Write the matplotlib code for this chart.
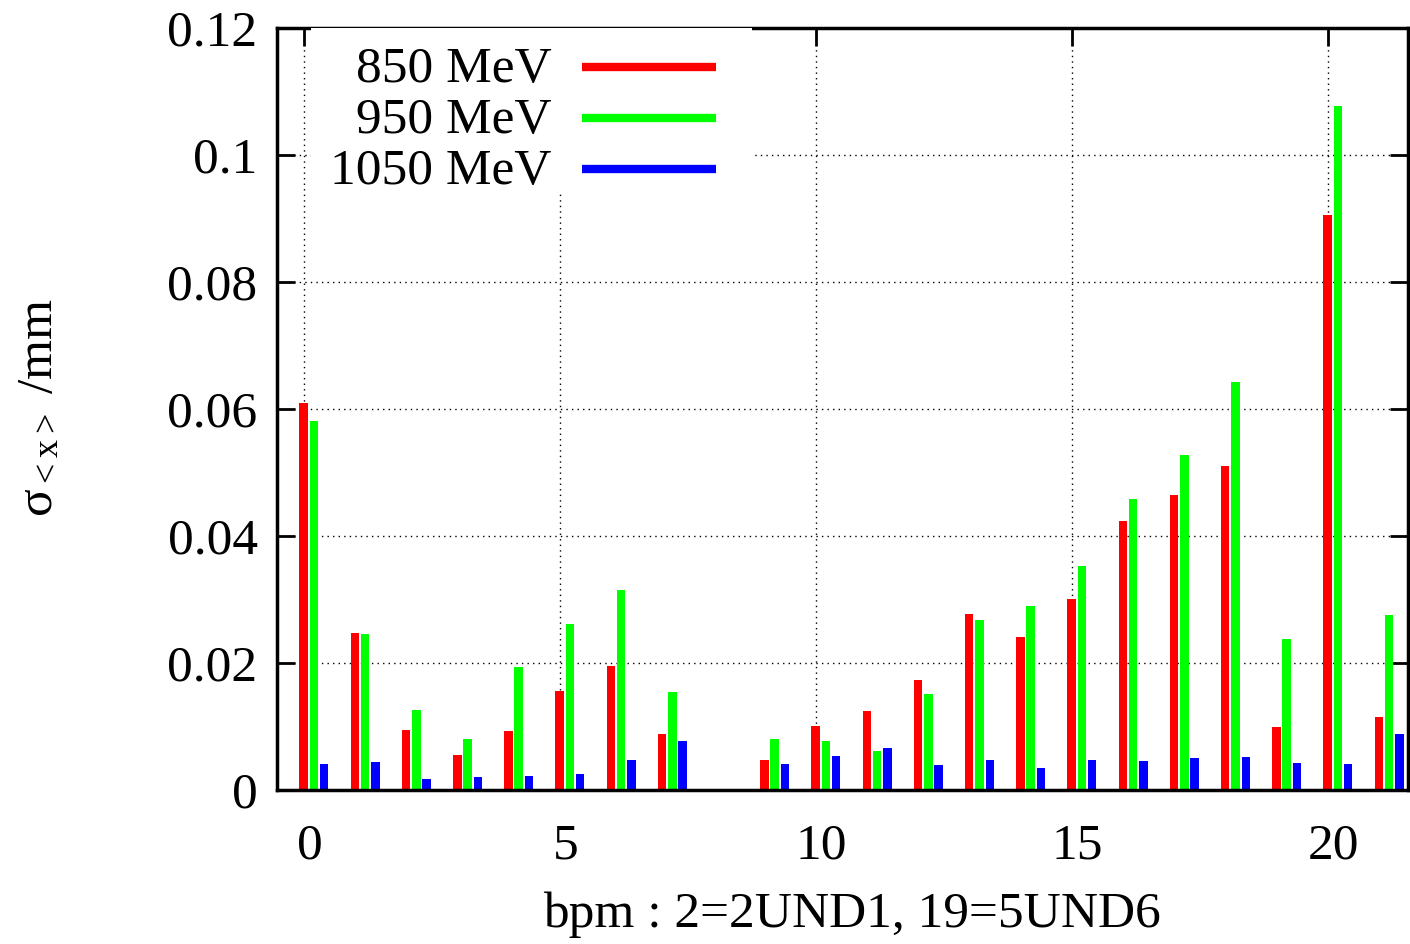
import numpy as np
import matplotlib
matplotlib.use("Agg")
import matplotlib.pyplot as plt
import matplotlib.transforms as mtransforms

plt.rcParams['font.family'] = ['Liberation Serif', 'DejaVu Serif']
plt.rcParams['mathtext.fontset'] = 'custom'
plt.rcParams['mathtext.rm'] = 'Liberation Serif'
plt.rcParams['mathtext.it'] = 'Liberation Serif'

# rms orbit jitter per bpm, bpm 8 has no reading
bpm = np.arange(22)
sig_850 = [0.0609, 0.0247, 0.0094, 0.0055, 0.0093, 0.0156, 0.0195, 0.0088, np.nan, 0.0047, 0.0101,
           0.0124, 0.0173, 0.0277, 0.0241, 0.0301, 0.0423, 0.0464, 0.0510, 0.0100, 0.0906, 0.0115]
sig_950 = [0.0581, 0.0246, 0.01255, 0.0081, 0.0194, 0.0261, 0.0315, 0.0154, np.nan, 0.0081, 0.0078,
           0.0062, 0.0152, 0.0267, 0.0290, 0.0353, 0.0459, 0.0528, 0.0643, 0.0238, 0.1078, 0.0276]
sig_1050 = [0.0041, 0.0044, 0.0018, 0.0021, 0.0022, 0.0025, 0.0048, 0.0077, np.nan, 0.0041, 0.0054,
            0.0066, 0.0040, 0.0048, 0.0034, 0.0047, 0.0045, 0.0050, 0.0052, 0.0043, 0.0041, 0.0089]
labels = ['850 MeV', '950 MeV', '1050 MeV']
colors = ['#ff0000', '#00ff00', '#0000ff']

fig = plt.figure(figsize=(14.1, 9.44), dpi=100)
ax = fig.add_axes([0.1965, 0.1631, 0.8021, 0.8072])

for k, (vals, c) in enumerate(zip([sig_850, sig_950, sig_1050], colors)):
    v = np.array(vals)
    ok = ~np.isnan(v)
    ax.bar(bpm[ok] + 0.2 * k, v[ok], width=0.165, color=c, zorder=2)

ax.set_xlim(-0.52, 21.57)
ax.set_ylim(0, 0.12)
ax.set_xticks([0, 5, 10, 15, 20])
ax.set_yticks(np.arange(0, 0.121, 0.02))
ax.set_yticklabels(['0', '0.02', '0.04', '0.06', '0.08', '0.1', '0.12'])
ax.grid(True, color='black', linestyle=(0, (1, 3)), linewidth=1.0, zorder=0)
ax.set_axisbelow(True)
ax.tick_params(direction='in', length=13, width=2, top=True, right=True,
               labelsize=37)
ax.tick_params(axis='x', pad=24)
ax.tick_params(axis='y', pad=14)
shift = mtransforms.ScaledTranslation(6 / 100, 0, fig.dpi_scale_trans)
for lab in ax.get_xticklabels():
    lab.set_transform(lab.get_transform() + shift)
for s in ax.spines.values():
    s.set_linewidth(2.5)

fig.text(852 / 1410, 1 - 915 / 944, 'bpm : 2=2UND1, 19=5UND6', fontsize=37,
         ha='center', va='center')
fig.text(40 / 1410, 1 - 408 / 944, r'σ$_{<\mathrm{x}>}$ /mm', fontsize=37,
         rotation=90, ha='center', va='center')

# key with opaque background
ax.add_patch(plt.Rectangle((0.03, 0.785), 0.39, 0.215, transform=ax.transAxes,
                           facecolor='white', edgecolor='none', zorder=3))
for i, (lab, c) in enumerate(zip(labels, colors)):
    y = 0.949 - i * 0.0669
    ax.text(0.2425, y - 0.004, lab, transform=ax.transAxes, ha='right', va='center',
            fontsize=37, zorder=4)
    ax.plot([0.27, 0.388], [y, y], transform=ax.transAxes, color=c,
            linewidth=6, solid_capstyle='butt', zorder=4)

fig.savefig('out.png', dpi=100)
